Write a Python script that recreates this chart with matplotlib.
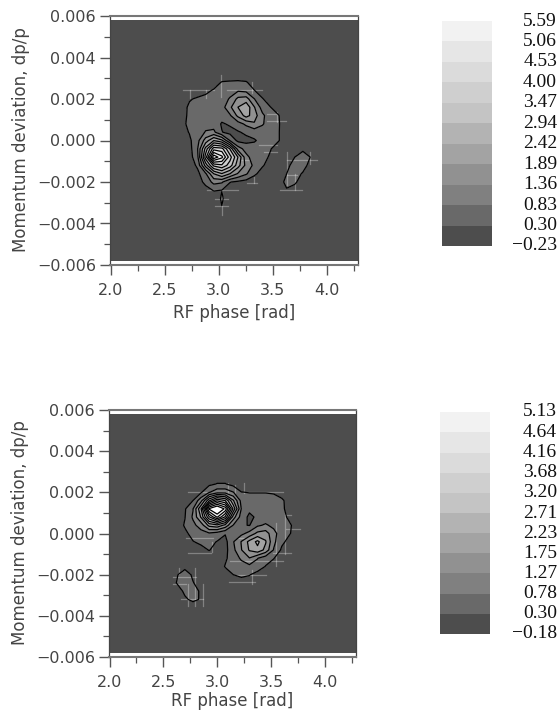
import numpy as np
import matplotlib
matplotlib.use("Agg")
import matplotlib.pyplot as plt
from matplotlib.colors import ListedColormap

# grid of the phase space density, only the central part is non zero
y_nodes = [0.0032, 0.0028, 0.0024, 0.0020, 0.0016, 0.0012, 0.0008, 0.0004, 0.0, -0.0004,
           -0.0008, -0.0012, -0.0016, -0.0020, -0.0024, -0.0028, -0.0032, -0.0036]

top_x = [2.58, 2.655, 2.73, 2.805, 2.88, 2.955, 3.03, 3.105, 3.18, 3.255,
         3.33, 3.405, 3.48, 3.555, 3.63, 3.705, 3.78, 3.855, 3.93, 4.005]
top_z = [
    [0, 0, 0, 0, 0, 0, 0, 0, 0, 0, 0, 0, 0, 0, 0, 0, 0, 0, 0, 0],
    [0, 0, 0, 0, 0, .1, .33, .36, .38, .34, .1, 0, 0, 0, 0, 0, 0, 0, 0, 0],
    [0, 0, 0, 0, .2, .35, .4, .55, .78, .7, .32, .1, 0, 0, 0, 0, 0, 0, 0, 0],
    [0, 0, .25, .38, .42, .45, .5, .9, 1.5, 1.6, .85, .33, .1, 0, 0, 0, 0, 0, 0, 0],
    [0, .05, .4, .45, .5, .52, .6, 1.25, 1.9, 2.3, 1.4, .6, .31, .1, 0, 0, 0, 0, 0, 0],
    [0, .1, .4, .48, .52, .55, .5, .75, 1.5, 2.1, 1.6, .95, .5, .32, .05, 0, 0, 0, 0, 0],
    [0, .15, .42, .5, .6, .6, .25, .36, .6, .95, 1.3, .9, .48, .33, .08, 0, 0, 0, 0, 0],
    [0, .08, .33, .45, .88, .95, .32, .15, .25, .4, .5, .5, .48, .32, .1, 0, 0, 0, 0, 0],
    [0, .05, .2, .65, 1.6, 2.4, 2.0, .8, .15, .15, .25, .45, .45, .32, .1, 0, 0, 0, 0, 0],
    [0, 0, .1, .8, 2.6, 4.3, 4.2, 2.9, 1.1, .6, .5, .45, .32, .12, .05, .05, .1, .05, 0, 0],
    [0, 0, .05, .7, 3.2, 6.0, 5.2, 3.7, 2.4, 1.0, .55, .42, .25, .03, .1, .3, .75, .25, 0, 0],
    [0, 0, 0, .4, 2.1, 3.6, 3.9, 3.2, 2.1, 1.2, .7, .35, .1, 0, .1, .6, .5, .1, 0, 0],
    [0, 0, 0, .15, .75, 1.9, 2.4, 1.9, 1.3, .9, .4, .1, 0, 0, .3, .5, .25, 0, 0, 0],
    [0, 0, 0, .05, .45, 1.0, .9, .32, .2, .1, 0, 0, 0, .05, .45, .38, .05, 0, 0, 0],
    [0, 0, 0, 0, .1, .33, .29, .05, 0, 0, 0, 0, 0, 0, .25, .1, 0, 0, 0, 0],
    [0, 0, 0, 0, 0, 0, .36, 0, 0, 0, 0, 0, 0, 0, 0, 0, 0, 0, 0, 0],
    [0, 0, 0, 0, 0, 0, .29, 0, 0, 0, 0, 0, 0, 0, 0, 0, 0, 0, 0, 0],
    [0, 0, 0, 0, 0, 0, 0, 0, 0, 0, 0, 0, 0, 0, 0, 0, 0, 0, 0, 0],
]

bottom_x = [2.55, 2.625, 2.7, 2.775, 2.85, 2.925, 3.0, 3.075, 3.15,
            3.225, 3.3, 3.375, 3.45, 3.525, 3.6, 3.675, 3.75]
bottom_z = [
    [0, 0, 0, 0, 0, 0, 0, 0, 0, 0, 0, 0, 0, 0, 0, 0, 0],
    [0, 0, 0, 0, 0, 0, 0, 0, 0, 0, 0, 0, 0, 0, 0, 0, 0],
    [0, 0, 0, 0, .1, .2, .33, .33, .15, .1, .1, .1, .1, .05, 0, 0, 0],
    [0, 0, 0, .05, .25, .75, 1.1, 1.1, .8, .31, .29, .29, .29, .27, .1, 0, 0],
    [0, 0, .1, .3, 1.1, 2.6, 3.6, 3.2, 1.8, .6, .42, .42, .42, .42, .38, .1, 0],
    [0, .05, .25, .75, 2.2, 5.2, 5.9, 5.0, 2.6, .75, .4, .42, .45, .45, .4, .1, 0],
    [0, .05, .28, .85, 1.8, 3.6, 4.7, 3.6, 1.5, .55, .2, .38, .5, .5, .45, .2, 0],
    [0, .03, .35, .65, 1.0, 1.9, 2.1, 1.6, .75, .35, .28, .7, .85, .65, .45, .35, .1],
    [0, 0, .2, .45, .6, .7, .55, .33, .5, .65, .95, 1.4, 1.5, .95, .5, .32, .1],
    [0, 0, 0, .28, .4, .42, .28, .15, .75, 1.3, 1.9, 2.35, 1.8, .9, .4, .15, 0],
    [0, 0, 0, 0, .15, .32, .15, .15, .65, 1.25, 1.8, 2.1, 1.6, .75, .22, 0, 0],
    [0, 0, 0, 0, 0, .05, .1, .22, .55, .85, 1.25, .8, .5, .32, .05, 0, 0],
    [0, .1, .12, .05, 0, 0, 0, .33, .55, .6, .65, .6, .28, .1, 0, 0, 0],
    [0, .25, .6, .2, 0, 0, 0, .1, .3, .4, .33, .1, 0, 0, 0, 0, 0],
    [0, .32, .6, .33, .05, 0, 0, 0, 0, .1, .05, 0, 0, 0, 0, 0, 0],
    [0, .05, .4, .55, .2, 0, 0, 0, 0, 0, 0, 0, 0, 0, 0, 0, 0],
    [0, 0, .22, .42, .25, 0, 0, 0, 0, 0, 0, 0, 0, 0, 0, 0, 0],
    [0, 0, 0, 0, 0, 0, 0, 0, 0, 0, 0, 0, 0, 0, 0, 0, 0],
]

top_levels = [-0.23, 0.30, 0.83, 1.36, 1.89, 2.42, 2.94, 3.47, 4.00, 4.53, 5.06, 5.59]
bottom_levels = [-0.18, 0.30, 0.78, 1.27, 1.75, 2.23, 2.71, 3.20, 3.68, 4.16, 4.64, 5.13]
top_labels = ["\u22120.23", "0.30", "0.83", "1.36", "1.89", "2.42", "2.94", "3.47", "4.00", "4.53", "5.06", "5.59"]
bottom_labels = ["\u22120.18", "0.30", "0.78", "1.27", "1.75", "2.23", "2.71", "3.20", "3.68", "4.16", "4.64", "5.13"]
band_colors = ["#4d4d4d", "#696969", "#808080", "#919191", "#a3a3a3", "#b3b3b3",
               "#c4c4c4", "#cfcfcf", "#dbdbdb", "#e6e6e6", "#f2f2f2"]

# faint grid pieces that show in the filled area: (y, x0, x1) and (x, y0, y1)
top_hseg = [(.00243, 2.667, 2.954), (.00243, 3.077, 3.401), (.00094, 3.448, 3.623), (-.0002, 3.37, 3.54),
            (-.00055, 3.417, 3.54), (-.00092, 3.633, 3.91), (-.00168, 3.633, 3.725), (-.0024, 2.892, 3.176),
            (-.0024, 3.565, 3.772), (-.0028, 2.97, 3.09), (-.00318, 2.97, 3.09), (-.00095, 3.2, 3.29),
            (-.00205, 3.26, 3.355), (.00130, 3.45, 3.53)]
top_vseg = [(2.738, .00203, .00243), (2.883, .00203, .00243), (3.02, .00211, .00316), (3.309, .00227, .00284),
            (3.54, .0009, .00139), (3.633, -.00216, -.00055), (3.71, -.0024, -.0016), (3.849, -.00111, -.00055),
            (3.03, -.00361, -.0024), (3.33, -.00205, -.00176)]
bottom_hseg = [(.00203, 2.727, 2.913), (.00203, 3.24, 3.61), (.00089, 3.63, 3.69), (.0002, 3.64, 3.77),
               (-.00094, 2.727, 2.944), (-.00094, 3.52, 3.69), (-.00133, 3.115, 3.61), (-.00203, 3.18, 3.457),
               (-.00236, 3.11, 3.35), (-.0021, 2.587, 2.804), (-.00244, 2.587, 2.71), (-.00317, 2.665, 2.866),
               (-.00020, 2.71, 2.96), (-.0002, 3.18, 3.25)]
bottom_vseg = [(2.873, -.0035, -.00244), (2.798, -.00354, -.0017), (2.727, -.0035, -.00244), (2.649, -.00195, -.0017),
               (3.248, .00195, .00244), (3.326, -.00244, -.00179), (3.63, -.00098, .00098), (3.55, -.0016, .0005),
               (3.17, .00195, .00235), (3.1, .00195, .00244), (2.95, -.0009, -.0004)]

W, H = 558, 712
dark = "#444444"


def make_panel(box, cbar_box, xs, z, levels, labels, hseg, vseg, xlabel_pad):
    left, right, top, bottom = box
    ax = fig.add_axes([left / W, 1 - bottom / H, (right - left) / W, (bottom - top) / H])
    # pad with a ring of zeros out to the edge of the map
    x_full = np.array([1.995] + xs + [4.3])
    y_full = np.array([-0.0058] + y_nodes[::-1] + [0.0058])
    z_full = np.pad(np.array(z, dtype=float)[::-1], 1)

    cs = ax.contourf(x_full, y_full, z_full, levels=levels, colors=band_colors, extend="max")
    cs.cmap.set_over("white")
    for y, x0, x1 in hseg:
        ax.plot([x0, x1], [y, y], color="white", alpha=0.3, lw=0.9)
    for x, y0, y1 in vseg:
        ax.plot([x, x], [y0, y1], color="white", alpha=0.3, lw=0.9)
    ax.contour(x_full, y_full, z_full, levels=levels[1:], colors="black", linewidths=0.9)

    ax.set_xlim(1.995, 4.29)
    ax.set_ylim(-0.006, 0.006)
    ax.set_xticks([2.0, 2.5, 3.0, 3.5, 4.0])
    ax.set_xticklabels(["2.0", "2.5", "3.0", "3.5", "4.0"])
    ax.set_xticks([2.25, 2.75, 3.25, 3.75, 4.25], minor=True)
    ax.set_yticks([-0.006, -0.004, -0.002, 0.0, 0.002, 0.004, 0.006])
    ax.set_yticklabels(["\u22120.006", "\u22120.004", "\u22120.002", "0.000", "0.002", "0.004", "0.006"])
    ax.set_yticks([-0.005, -0.003, -0.001, 0.001, 0.003, 0.005], minor=True)
    ax.tick_params(which="major", length=7, width=1.0, color="#555555", labelsize=11.5, labelcolor=dark, pad=3)
    ax.tick_params(axis="x", which="major", pad=6)
    ax.tick_params(which="minor", length=4, width=0.9, color="#555555")
    ax.set_xlabel("RF phase [rad]", fontsize=12, color=dark, labelpad=xlabel_pad)
    ax.set_ylabel("Momentum deviation, dp/p", fontsize=12, color=dark, labelpad=5, y=0.505)
    for side in ["top", "bottom"]:
        ax.spines[side].set_color("#777777")
        ax.spines[side].set_linewidth(1.5)
    for side in ["left", "right"]:
        ax.spines[side].set_color("#444444")
        ax.spines[side].set_linewidth(0.9)

    # grey scale key with the level values at the band edges
    cleft, cright, ctop, cbottom = cbar_box
    cax = fig.add_axes([cleft / W, 1 - cbottom / H, (cright - cleft) / W, (cbottom - ctop) / H])
    values = np.arange(len(band_colors)).reshape(-1, 1)
    cax.pcolormesh([0, 1], levels, values, cmap=ListedColormap(band_colors))
    cax.axis("off")
    for lev, lab in zip(levels, labels):
        cax.text((557 - cleft) / (cright - cleft), lev, lab, ha="right", va="center",
                 family="Liberation Serif", fontsize=14, color="#111111")


fig = plt.figure(figsize=(W / 100, H / 100), dpi=100)
make_panel((110, 358, 16, 265), (442, 492, 21, 246), top_x, top_z, top_levels, top_labels, top_hseg, top_vseg, 4)
make_panel((109, 356, 410, 657), (440, 490, 412, 634), bottom_x, bottom_z, bottom_levels, bottom_labels, bottom_hseg, bottom_vseg, 1.5)
fig.savefig("out.png", dpi=100)
